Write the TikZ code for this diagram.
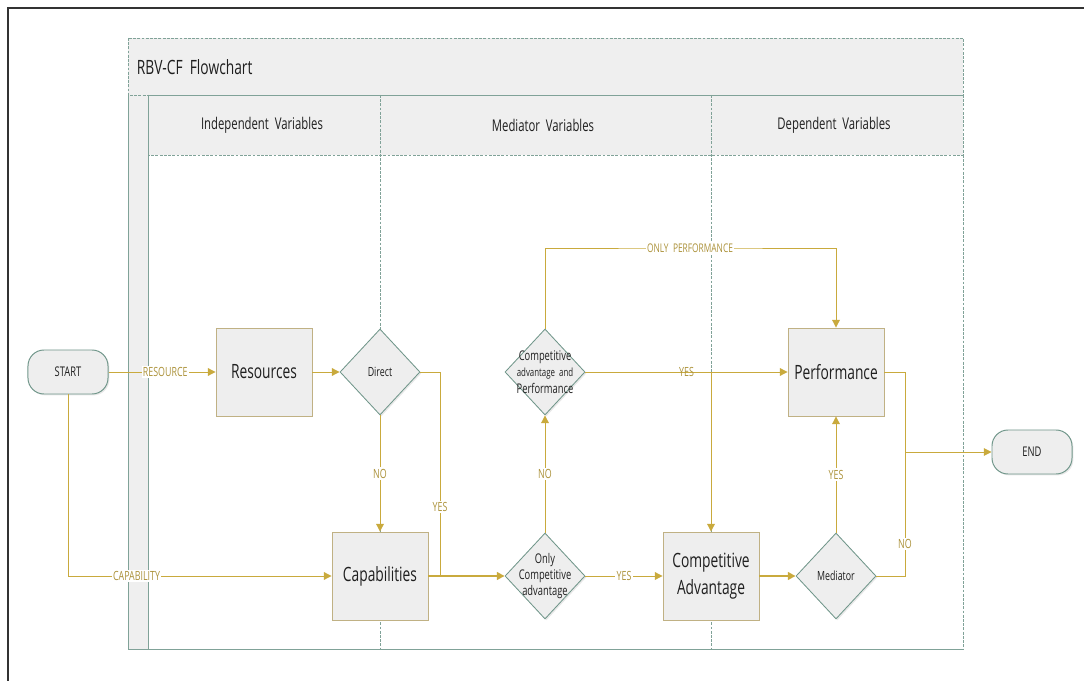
\documentclass[tikz,border=0pt]{standalone}
\usepackage{fontspec}
\setmainfont{Open Sans}[FakeStretch=0.7]
\usetikzlibrary{arrows.meta,shapes.geometric,shadows,positioning}

\definecolor{flowgold}{RGB}{201,170,61}
\definecolor{labelgold}{RGB}{172,146,58}
\definecolor{boxedge}{RGB}{192,177,132}
\definecolor{shapeedge}{RGB}{112,150,138}
\definecolor{pooledge}{RGB}{128,162,152}
\definecolor{shapefill}{RGB}{238,238,238}
\definecolor{bandfill}{RGB}{239,239,239}

\tikzset{
  soft shadow/.style={drop shadow={shadow xshift=1pt,shadow yshift=-1pt,opacity=0.18}},
  process/.style={rectangle,draw=boxedge,fill=shapefill,line width=0.6pt,
    minimum width=2.4cm,minimum height=2.2cm,inner sep=1pt,align=center,
    text=black!88,font=\fontsize{14}{19}\selectfont,soft shadow},
  decision/.style={diamond,draw=shapeedge,fill=shapefill,line width=0.6pt,
    minimum width=2cm,minimum height=2.15cm,inner sep=0pt,
    text=black!88,font=\fontsize{9}{11}\selectfont,soft shadow},
  dtext/.style={align=center,text=black!88,inner sep=0pt,
    font=\fontsize{9.5}{11.5}\selectfont},
  terminal/.style={rectangle,rounded corners=0.4cm,draw=shapeedge,fill=shapefill,
    line width=0.7pt,minimum width=2cm,minimum height=1.1cm,
    text=black!88,font=\fontsize{9.5}{11}\selectfont,soft shadow},
  flow/.style={draw=flowgold,line width=0.7pt,-{Triangle[length=5.5pt,width=5.5pt]}},
  mainflow/.style={flow,line width=1.5pt},
  joinline/.style={draw=flowgold,line width=0.7pt},
  flowlabel/.style={fill=white,inner sep=1pt,text=labelgold,
    font=\fontsize{9}{10}\selectfont},
  lanehead/.style={text=black!88,font=\fontsize{11.5}{14}\selectfont},
  pooltitle/.style={anchor=west,text=black!88,font=\fontsize{14}{17}\selectfont},
  pooldash/.style={draw=pooledge,dash pattern=on 2pt off 1pt,line width=0.5pt},
  poolline/.style={draw=pooledge,line width=0.6pt},
}

\begin{document}
\begin{tikzpicture}[x=0.025cm,y=-0.025cm]
  \useasboundingbox (0,0) rectangle (1084,681);

  % frame
  \draw [black!80,line width=1.2pt] (8,681) -- (8,8) -- (1084,8);

  % pool and lanes
  \fill [bandfill] (128,38) rectangle (963,95);
  \fill [bandfill] (128,95) rectangle (148,649);
  \fill [bandfill] (148,95) rectangle (963,155);
  \draw [pooldash] (128,38) rectangle (963,95);
  \draw [pooldash] (148,95) rectangle (963,155);
  \draw [pooldash] (380,95) -- (380,649);
  \draw [pooldash] (711,95) -- (711,649);
  \draw [pooldash] (963,155) -- (963,649);
  \draw [poolline] (148,95) -- (148,649) -- (128,649) -- (128,95);
  \draw [poolline] (148,649) -- (963,649);

  \node [pooltitle] (title) at (132,67) {RBV-CF\ \ Flowchart};
  \node [lanehead] (indep) at (262,125) {Independent\ \ Variables};
  \node [lanehead] (medvar) at (543,125) {Mediator\ \ Variables};
  \node [lanehead] (depvar) at (834,125) {Dependent\ \ Variables};

  % shapes
  \node [terminal] (start) at (68,372) {START};
  \node [process] (res) at (264,372) {Resources};
  \node [decision] (direct) at (380,372) {Direct};
  \node [process] (capab) at (380,576) {Capabilities};
  \node [decision,label={[dtext]center:Only\\Competitive\\advantage}]
    (onlyca) at (545,576) {};
  \node [decision,label={[dtext]center:Competitive\\
    {\fontsize{8}{11}\selectfont advantage\ \ and}\\Performance}]
    (caperf) at (545,372) {};
  \node [process] (compadv) at (711,576) {Competitive\\Advantage};
  \node [decision] (med) at (836,576) {Mediator};
  \node [process] (perf) at (836,372) {Performance};
  \node [terminal] (end) at (1032,452) {END};

  \coordinate (yesjoin) at (440,576);
  \coordinate (endjoin) at (905,452);
  \coordinate (optop) at (690,248);

  % connectors
  \draw [flow] (start.east) -- node [flowlabel,pos=0.53] {RESOURCE} (res.west);
  \draw [flow] (start.south) |- node [flowlabel,pos=0.63] {CAPABILITY} (capab.west);
  \draw [flow] (res.east) -- (direct.west);
  \draw [flow] (direct.south) -- node [flowlabel] {NO} (capab.north);
  \draw [joinline] (direct.east) -| node [flowlabel,pos=0.83] {YES} (yesjoin);
  \draw [mainflow] (capab.east) -- (onlyca.west);
  \draw [flow] (onlyca.north) -- node [flowlabel] {NO} (caperf.south);
  \draw [flow] (onlyca.east) -- node [flowlabel] {YES} (compadv.west);
  \draw [flow] (caperf.east) -- node [flowlabel,fill=none] {YES} (perf.west);
  \draw [flow] (caperf.east -| compadv.north) -- (compadv.north);
  \draw [flow] (caperf.north) |- (optop) node [flowlabel,font=\fontsize{8.5}{10}\selectfont]
    {ONLY\ \ PERFORMANCE} -| (perf.north);
  \draw [mainflow] (compadv.east) -- (med.west);
  \draw [flow] (med.north) -- node [flowlabel] {YES} (perf.south);
  \draw [joinline] (perf.east) -| (endjoin);
  \draw [joinline] (med.east) -| node [flowlabel,pos=0.63] {NO} (endjoin);
  \draw [flow] (endjoin) -- (end.west);
\end{tikzpicture}
\end{document}
